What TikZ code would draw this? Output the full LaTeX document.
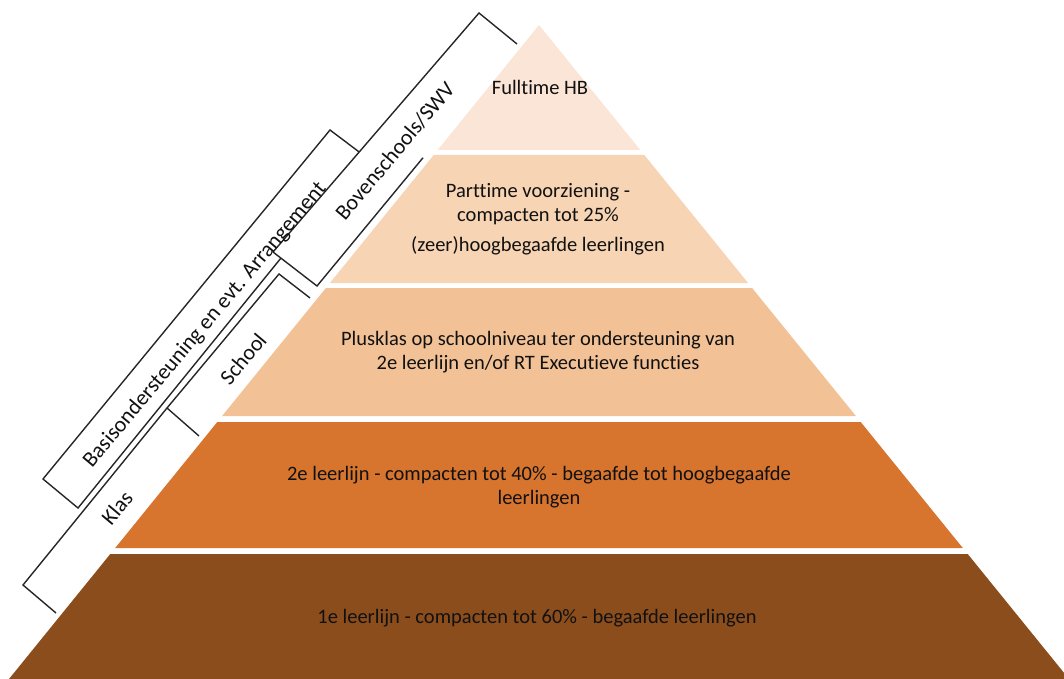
\documentclass[tikz,border=0pt]{standalone}
\usepackage{fontspec}
\setmainfont{Carlito}[Ligatures=NoCommon]
\usetikzlibrary{calc}
\definecolor{tA}{HTML}{FBE5D6}
\definecolor{tB}{HTML}{F7D4B3}
\definecolor{tC}{HTML}{F2C296}
\definecolor{tD}{HTML}{D7752F}
\definecolor{tE}{HTML}{8C4D1D}
\definecolor{txt}{HTML}{111111}
\definecolor{ln}{HTML}{262626}
\begin{document}
\begin{tikzpicture}[x=1pt,y=-1pt,
  lbl/.style={font=\fontsize{20.5}{24}\selectfont, text=txt, align=center, inner sep=0pt},
  brk/.style={draw=ln, line width=1.4pt, line join=miter},
  side/.style={font=\fontsize{22}{26}\selectfont, text=txt, rotate=50, inner sep=0pt}]
\useasboundingbox (0,0) rectangle (1064,679);
% pyramid tiers
\fill[tA] (539,25) -- (640.3,150) -- (437.7,150) -- cycle;
\fill[tB] (433.7,155) -- (644.3,155) -- (748.1,283) -- (329.9,283) -- cycle;
\fill[tC] (325.9,288) -- (752.1,288) -- (855.9,416) -- (222.1,416) -- cycle;
\fill[tD] (217.3,422) -- (860.7,422) -- (962.8,548) -- (115.2,548) -- cycle;
\fill[tE] (110.3,554) -- (967.7,554) -- (1069,679) -- (9,679) -- cycle;
% tier texts
\node[lbl] (t1) at (540,87) {Fulltime HB};
\node[lbl] (t2) at (538,204) {Parttime voorziening -\\compacten tot 25\%};
\node[lbl] (t2b) at (538,246) {(zeer)hoogbegaafde leerlingen};
\node[lbl] (t3) at (538,352) {Plusklas op schoolniveau ter ondersteuning van\\2e leerlijn en/of RT Executieve functies};
\node[lbl] (t4) at (539,487) {2e leerlijn - compacten tot 40\% - begaafde tot hoogbegaafde\\leerlingen};
\node[lbl] (t5) at (537,618) {1e leerlijn - compacten tot 60\% - begaafde leerlingen};
% bracket coordinates
\coordinate (A) at (517,44);
\coordinate (B) at (479,13);
\coordinate (C) at (273,252);
\coordinate (D) at (317,286);
\coordinate (E) at ($(D)!0.53!(A)$);
\coordinate (F) at ($(B)!0.5816!(C)$);
\coordinate (G) at (330,130);
\coordinate (H) at (43,479);
\coordinate (I) at (78,508);
\coordinate (J) at ($(C)!0.18!(D)$);
\coordinate (K) at (310,298);
\coordinate (L) at (279,274);
\coordinate (M) at (167,408);
\coordinate (N) at (199,436);
\coordinate (P) at (23,585);
\coordinate (Q) at (56,613);
% brackets
\draw[brk] (A) -- (B) -- (C) -- (D) -- (E);
\draw[brk] (F) -- (G) -- (H) -- (I) -- (J);
\draw[brk] (K) -- (L) -- (M) -- (N);
\draw[brk] (M) -- (P) -- (Q);
% bracket labels
\node[side] (s1) at (395,151) {Bovenschools/SWV};
\node[side] (s2) at (205,325) {Basisondersteuning en evt. Arrangement};
\node[side] (s3) at (243,359) {School};
\node[side] (s4) at (117,508) {Klas};
\end{tikzpicture}
\end{document}
